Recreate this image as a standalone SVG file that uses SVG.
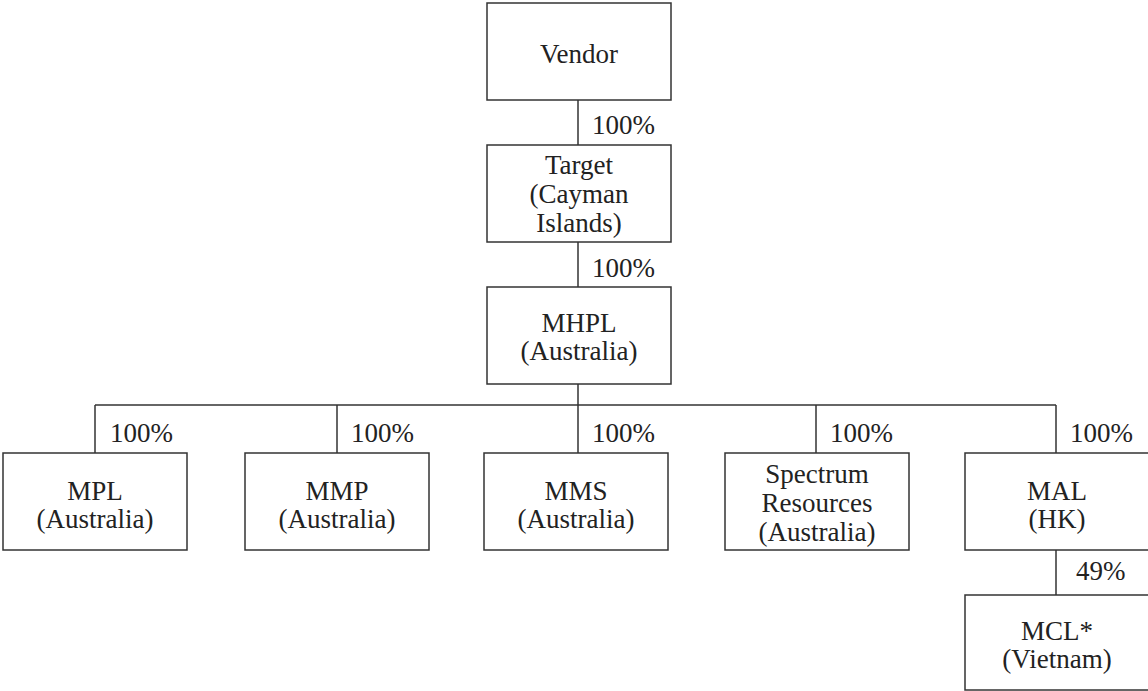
<svg xmlns="http://www.w3.org/2000/svg" width="1148" height="691" viewBox="0 0 1148 691">
<style>
rect.box{fill:#fff;stroke:#333;stroke-width:1.5}
.conn line{stroke:#333;stroke-width:1.5}
text{font-family:"Liberation Serif","Times New Roman",serif;font-size:27px;fill:#222}
text.c{text-anchor:middle}
</style>
<rect width="1148" height="691" fill="#fff"/>
<g id="connectors" class="conn">
<line x1="578" y1="100" x2="578" y2="145"/>
<line x1="578" y1="242" x2="578" y2="287"/>
<line x1="578" y1="384" x2="578" y2="405"/>
<line x1="95" y1="405" x2="1056" y2="405"/>
<line x1="95" y1="405" x2="95" y2="453"/>
<line x1="337" y1="405" x2="337" y2="453"/>
<line x1="578" y1="405" x2="578" y2="453"/>
<line x1="816" y1="405" x2="816" y2="453"/>
<line x1="1056" y1="405" x2="1056" y2="453"/>
<line x1="1056" y1="550" x2="1056" y2="595"/>
<text x="592" y="134">100%</text>
<text x="592" y="277">100%</text>
<text x="110" y="442">100%</text>
<text x="351" y="442">100%</text>
<text x="592" y="442">100%</text>
<text x="830" y="442">100%</text>
<text x="1070" y="442">100%</text>
<text x="1076" y="580">49%</text>
</g>
<g id="vendor"><rect class="box" x="487" y="3" width="184" height="97"/><text class="c" x="579" y="63">Vendor</text></g>
<g id="target"><rect class="box" x="487" y="145" width="184" height="97"/><text class="c" x="579" y="174">Target</text><text class="c" x="579" y="203">(Cayman</text><text class="c" x="579" y="232">Islands)</text></g>
<g id="mhpl"><rect class="box" x="487" y="287" width="184" height="97"/><text class="c" x="579" y="332">MHPL</text><text class="c" x="579" y="360">(Australia)</text></g>
<g id="mpl"><rect class="box" x="3" y="453" width="184" height="97"/><text class="c" x="95" y="500">MPL</text><text class="c" x="95" y="528">(Australia)</text></g>
<g id="mmp"><rect class="box" x="245" y="453" width="184" height="97"/><text class="c" x="337" y="500">MMP</text><text class="c" x="337" y="528">(Australia)</text></g>
<g id="mms"><rect class="box" x="484" y="453" width="184" height="97"/><text class="c" x="576" y="500">MMS</text><text class="c" x="576" y="528">(Australia)</text></g>
<g id="spectrum"><rect class="box" x="725" y="453" width="184" height="97"/><text class="c" x="817" y="483">Spectrum</text><text class="c" x="817" y="512">Resources</text><text class="c" x="817" y="541">(Australia)</text></g>
<g id="mal"><rect class="box" x="965" y="453" width="186" height="97"/><text class="c" x="1057" y="500">MAL</text><text class="c" x="1057" y="528">(HK)</text></g>
<g id="mcl"><rect class="box" x="965" y="595" width="186" height="95"/><text class="c" x="1057" y="640">MCL*</text><text class="c" x="1057" y="668">(Vietnam)</text></g>
</svg>
